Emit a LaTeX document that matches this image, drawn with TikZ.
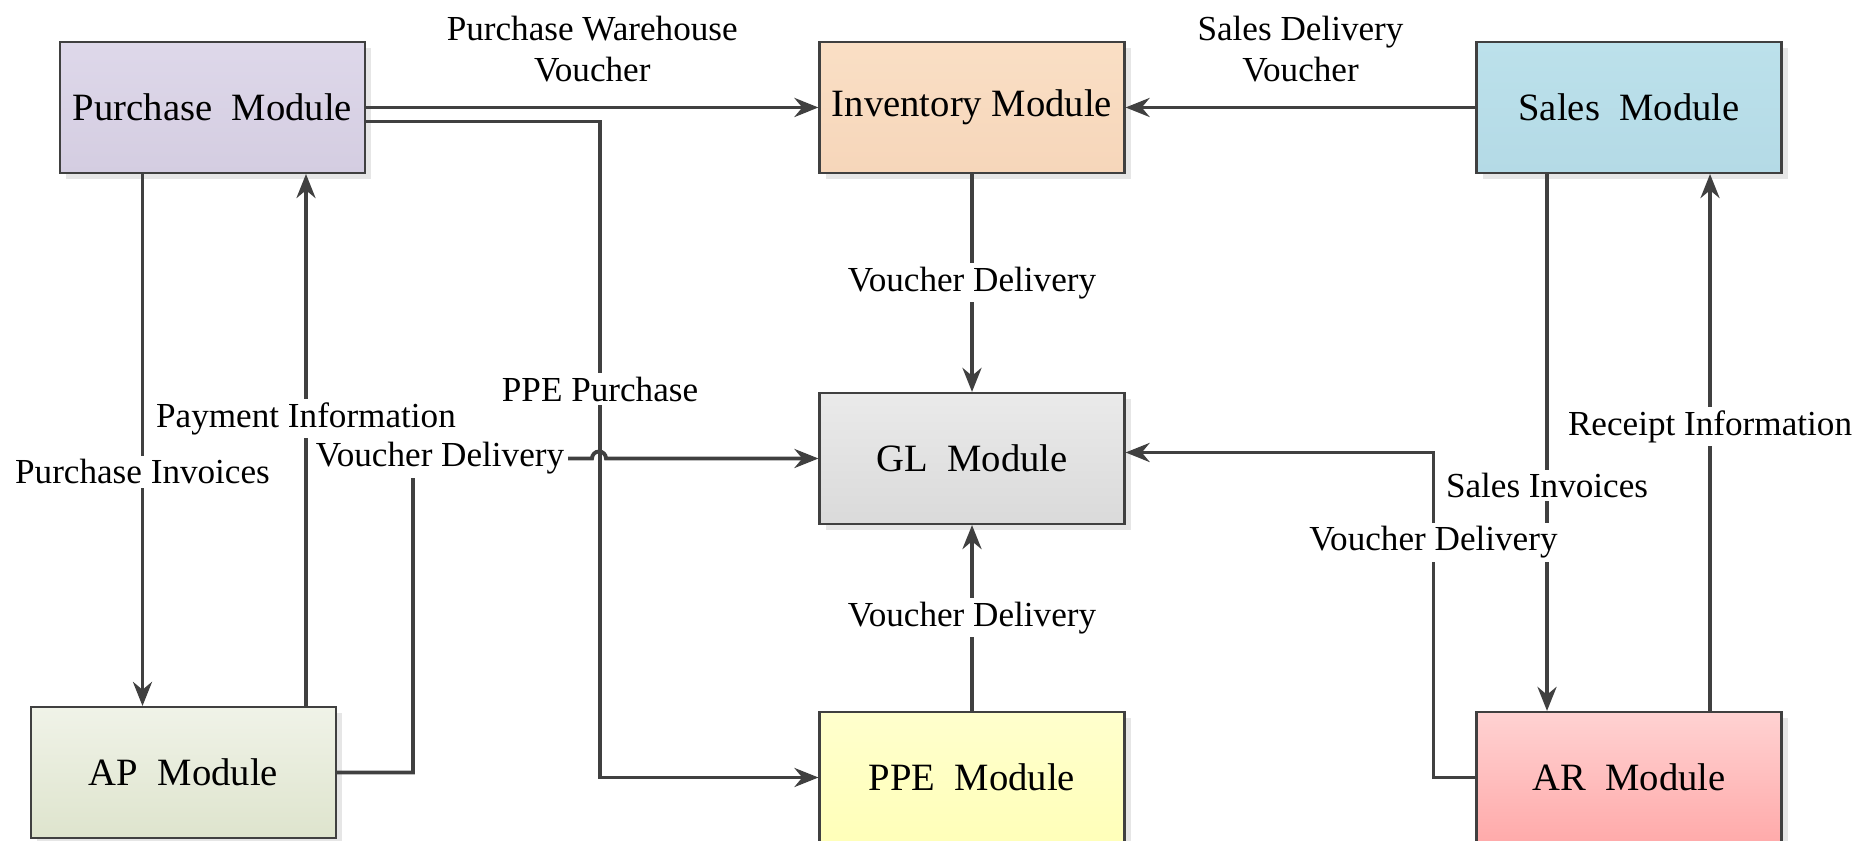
\documentclass[tikz,border=0pt]{standalone}
\usepackage{fontspec}
\setmainfont{Liberation Serif}
\usetikzlibrary{arrows.meta,shadows}

\definecolor{purtop}{RGB}{222,216,234}
\definecolor{purbot}{RGB}{212,205,225}
\definecolor{invtop}{RGB}{250,223,197}
\definecolor{invbot}{RGB}{246,214,186}
\definecolor{saltop}{RGB}{188,225,235}
\definecolor{salbot}{RGB}{180,218,230}
\definecolor{gltop}{RGB}{234,234,234}
\definecolor{glbot}{RGB}{218,218,218}
\definecolor{aptop}{RGB}{240,243,232}
\definecolor{apbot}{RGB}{222,228,205}
\definecolor{ppetop}{RGB}{255,255,205}
\definecolor{ppebot}{RGB}{255,255,185}
\definecolor{artop}{RGB}{255,210,210}
\definecolor{arbot}{RGB}{255,170,170}
\definecolor{linegray}{RGB}{64,64,64}

\begin{document}
\begin{tikzpicture}
    [>={Stealth[length=2.4mm,width=1.9mm]},
    module/.style={draw=linegray, line width=0.6pt, minimum width=3.05cm, minimum height=1.31cm,
        font=\fontsize{11}{13}\selectfont,
        drop shadow={opacity=0.2, shadow xshift=0.6mm, shadow yshift=-0.6mm}},
    flow/.style={->, draw=linegray, line width=1.1pt},
    lbl/.style={fill=white, inner sep=1pt, align=center, font=\fontsize{10}{11.8}\selectfont}]
    \useasboundingbox (0,0) rectangle (18.66,8.41);
    \node[module, top color=purtop, bottom color=purbot] (pur) at (2.125,7.335) {Purchase~~Module};
    \node[module, top color=invtop, bottom color=invbot] (inv) at (9.72,7.335) {Inventory Module};
    \node[module, top color=saltop, bottom color=salbot] (sal) at (16.29,7.335) {Sales~~Module};
    \node[module, top color=gltop, bottom color=glbot] (gl) at (9.72,3.825) {GL~~Module};
    \node[module, top color=aptop, bottom color=apbot] (ap) at (1.835,0.685) {AP~~Module};
    \node[module, top color=ppetop, bottom color=ppebot] (ppe) at (9.72,0.635) {PPE~~Module};
    \node[module, top color=artop, bottom color=arbot] (ar) at (16.29,0.635) {AR~~Module};
    \draw[flow] (pur.east) -- node[lbl, above=2mm]{Purchase Warehouse\\Voucher} (inv.west);
    \draw[flow] (sal.west) -- node[lbl, above=2mm]{Sales Delivery\\Voucher} (inv.east);
    \draw[flow] ([yshift=-1.4mm]pur.east) -- ++(2.34,0) |- node[lbl, pos=0.204]{PPE Purchase} (ppe.west);
    \foreach \from/\to in {inv/gl, ppe/gl}
    \draw[flow] (\from) -- node[lbl]{Voucher Delivery} (\to);
    \draw[flow] ([xshift=-7mm]pur.south) -- node[lbl, pos=0.56]{Purchase Invoices} ([xshift=-7mm]pur.south |- ap.north);
    \draw[flow] ([xshift=9.35mm]pur.south |- ap.north) -- node[lbl, pos=0.54]{Payment Information} ([xshift=9.35mm]pur.south);
    \draw[flow] (ap.east) -- ++(0.76,0) |- node[lbl, pos=0.5, xshift=2.7mm]{Voucher Delivery} (5.92,3.825)
        arc[start angle=180, end angle=0, radius=0.07] -- (gl.west);
    \draw[flow] ([xshift=-8.2mm]sal.south) -- node[lbl, pos=0.58]{Sales Invoices} ([xshift=-8.2mm]sal.south |- ar.north);
    \draw[flow] ([xshift=8.1mm]sal.south |- ar.north) -- node[lbl, pos=0.53]{Receipt Information} ([xshift=8.1mm]sal.south);
    \draw[flow] (ar.west) -- ++(-0.42,0) |- node[lbl, pos=0.362]{Voucher Delivery} ([yshift=0.6mm]gl.east);
\end{tikzpicture}
\end{document}
